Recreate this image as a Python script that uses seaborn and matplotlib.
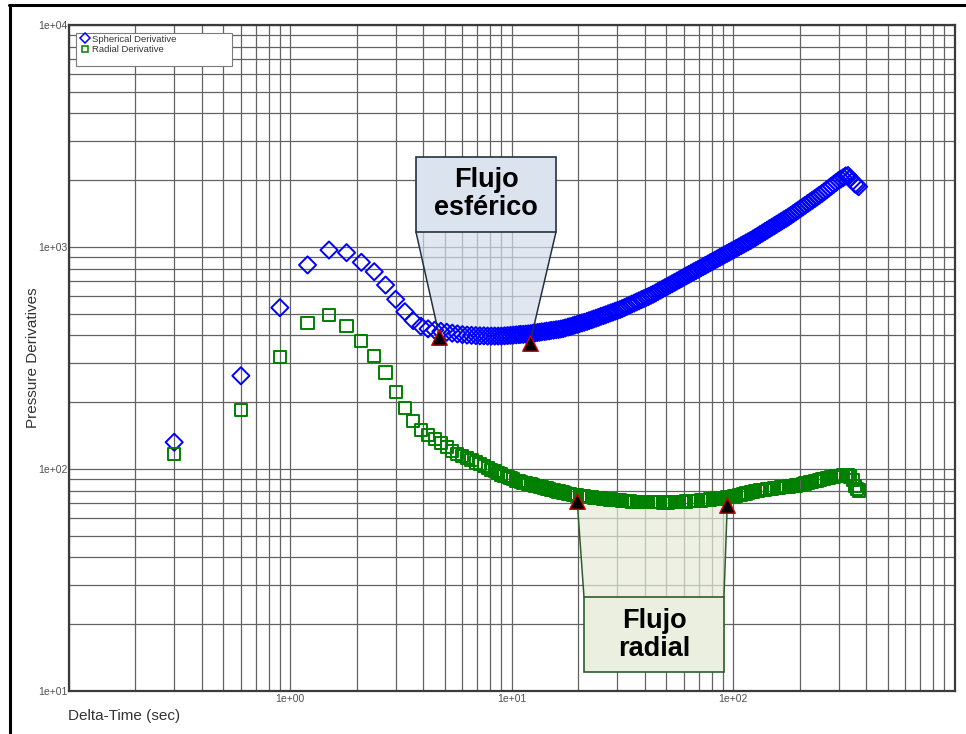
import matplotlib
matplotlib.use("Agg")
import numpy as np
import pandas as pd
import matplotlib.pyplot as plt
import seaborn as sns
from matplotlib.lines import Line2D
from matplotlib.patches import Rectangle, Polygon
from matplotlib.ticker import FixedLocator, LogLocator, FuncFormatter, NullFormatter

# ---- pressure-derivative data (time in seconds) ----
delta_time = [
    0.3, 0.6, 0.9, 1.2, 1.5, 1.8, 2.1, 2.4, 2.7, 3.0, 3.3, 3.6,
    3.9, 4.2, 4.5, 4.8, 5.1, 5.4, 5.7, 6.0, 6.3, 6.6, 6.9, 7.2, 7.5, 7.8,
    8.1, 8.4, 8.7, 9.0, 9.3, 9.6, 9.9, 10.2,
    10.5, 10.8, 11.0, 11.3, 11.6, 11.9, 12.2, 12.5, 12.8, 13.1,
    13.4, 13.7, 14.1, 14.4, 14.8, 15.1, 15.5, 15.9, 16.3, 16.7,
    17.1, 17.5, 18.0, 18.4, 18.9, 19.3, 19.8, 20.3, 20.8, 21.3,
    21.9, 22.4, 23.0, 23.5, 24.1, 24.7, 25.3, 26.0, 26.6, 27.3,
    28.0, 28.7, 29.4, 30.1, 30.9, 31.6, 32.4, 33.2, 34.1, 34.9,
    35.8, 36.7, 37.6, 38.6, 39.5, 40.5, 41.5, 42.6, 43.6, 44.7,
    45.8, 47.0, 48.1, 49.3, 50.6, 51.8, 53.1, 54.5, 55.8, 57.2,
    58.7, 60.1, 61.6, 63.2, 64.8, 66.4, 68.0, 69.7, 71.5, 73.3,
    75.1, 77.0, 78.9, 80.9, 82.9, 85.0, 87.1, 89.3, 91.5, 93.8,
    96.1, 98.5, 101.0, 103.5, 106.1, 108.8, 111.5, 114.3, 117.1, 120.1,
    123.1, 126.1, 129.3, 132.5, 135.8, 139.2, 142.7, 146.3, 149.9, 153.7,
    157.5, 161.5, 165.5, 169.6, 173.9, 178.2, 182.7, 187.3, 192.0, 196.8,
    201.7, 206.7, 211.9, 217.2, 222.6, 228.2, 233.9, 239.7, 245.7, 251.9,
    258.2, 264.6, 271.2, 278.0, 285.0, 292.1, 299.4, 306.9, 314.6, 322.4,
    330.5, 338.7, 347.2, 355.9, 363.0, 369.0,
]

spherical_derivative = [
    132, 263, 533, 830, 969, 943, 853, 774, 674, 581, 511, 466,
    440, 428, 422, 417, 413, 409, 406, 403, 401, 400, 399, 398, 398, 397,
    397, 397, 397, 397, 398, 399, 400, 401,
    402, 403, 404, 404, 405, 406, 407, 409, 410, 412,
    413, 415, 416, 418, 419, 421, 422, 424, 425, 427,
    429, 432, 436, 438, 442, 445, 448, 452, 455, 458,
    462, 466, 470, 474, 478, 482, 487, 491, 495, 500,
    505, 509, 514, 518, 523, 528, 534, 540, 547, 553,
    559, 566, 572, 579, 585, 592, 598, 606, 613, 621,
    630, 639, 647, 656, 665, 674, 683, 693, 702, 712,
    722, 732, 742, 752, 763, 773, 783, 793, 805, 816,
    827, 838, 850, 861, 873, 885, 897, 910, 922, 934,
    947, 960, 973, 986, 1000, 1014, 1028, 1042, 1056, 1070,
    1087, 1103, 1120, 1138, 1155, 1173, 1191, 1210, 1228, 1247,
    1266, 1286, 1306, 1326, 1346, 1367, 1390, 1414, 1439, 1464,
    1490, 1515, 1542, 1569, 1596, 1624, 1652, 1681, 1711, 1741,
    1775, 1809, 1844, 1880, 1917, 1954, 1992, 2023, 2053, 2090,
    2100, 2040, 1980, 1920, 1900, 1870,
]

radial_derivative = [
    117, 184, 321, 453, 492, 442, 378, 323, 272, 223, 188, 165,
    150, 142, 136, 131, 126, 121, 117, 114, 112, 110, 107, 105, 103, 101,
    99, 97.5, 96, 94.5, 93, 92, 91, 90,
    88.5, 87.9, 87.4, 86.8, 86.3, 85.7, 85.2, 84.6, 84.1, 83.6,
    83.2, 82.7, 82.1, 81.7, 81.1, 80.7, 80.2, 79.7, 79.2, 78.8,
    78.4, 78.0, 77.5, 77.2, 76.7, 76.4, 76.0, 75.6, 75.4, 75.2,
    74.9, 74.7, 74.5, 74.3, 74.1, 73.9, 73.7, 73.5, 73.3, 73.1,
    72.9, 72.7, 72.6, 72.4, 72.2, 72.0, 71.8, 71.7, 71.5, 71.3,
    71.2, 71.2, 71.1, 71.1, 71.0, 71.0, 70.9, 70.9, 70.8, 70.8,
    70.7, 70.7, 70.6, 70.5, 70.5, 70.7, 70.8, 70.9, 71.0, 71.1,
    71.2, 71.3, 71.4, 71.5, 71.6, 71.7, 71.8, 71.9, 72.1, 72.3,
    72.5, 72.7, 72.9, 73.2, 73.4, 73.6, 73.8, 74.0, 74.2, 74.5,
    74.7, 74.9, 75.2, 75.7, 76.2, 76.6, 77.1, 77.6, 78.1, 78.6,
    79.0, 79.4, 79.7, 80.1, 80.4, 80.8, 81.1, 81.4, 81.6, 81.9,
    82.1, 82.4, 82.7, 82.9, 83.2, 83.4, 83.7, 84.0, 84.3, 84.5,
    84.9, 85.4, 86.0, 86.5, 87.0, 87.6, 88.1, 88.7, 89.2, 89.8,
    90.3, 90.9, 91.4, 91.9, 92.4, 92.7, 93.0, 93.3, 93.6, 93.9,
    94.0, 92.5, 89.0, 84.0, 81.5, 80.0,
]

# flow-regime limits picked on each derivative
spherical_limits_t = [4.73, 12.1]
spherical_limits_y = [394, 368]
radial_limits_t = [19.8, 94.2]
radial_limits_y = [71.8, 68.8]

x_ticks = [1, 10, 100]
series_names = ["Spherical Derivative", "Radial Derivative"]

df = pd.DataFrame({
    "time": delta_time * 2,
    "deriv": spherical_derivative + radial_derivative,
    "series": [series_names[0]] * len(delta_time) + [series_names[1]] * len(delta_time),
})

sns.set_style("white")
plt.rcParams["font.family"] = ["Liberation Sans", "DejaVu Sans"]

W, H = 966, 734
fig = plt.figure(figsize=(W / 100, H / 100), dpi=100)
ax = fig.add_axes([68.5 / W, 43 / H, 886 / W, 666 / H])
ax.set_xscale("log")
ax.set_yscale("log")
ax.set_xlim(0.1, 1000)
ax.set_ylim(10, 10000)

BLUE = "#0000ff"
GREEN = "#008000"

sns.scatterplot(data=df[df.series == series_names[0]], x="time", y="deriv", ax=ax,
                marker="D", s=76, facecolor="none", edgecolor=BLUE, linewidth=1.4,
                zorder=3, legend=False)
sns.scatterplot(data=df[df.series == series_names[1]], x="time", y="deriv", ax=ax,
                marker="s", s=76, facecolor="none", edgecolor=GREEN, linewidth=1.4,
                zorder=3, legend=False)

# grid and ticks
ax.xaxis.set_major_locator(FixedLocator(x_ticks))
ax.xaxis.set_minor_locator(LogLocator(base=10, subs=np.arange(1, 10), numticks=30))
ax.yaxis.set_major_locator(LogLocator(base=10, numticks=10))
ax.yaxis.set_minor_locator(LogLocator(base=10, subs=np.arange(2, 10), numticks=30))
fmt = FuncFormatter(lambda v, p: f"{v:.0e}")
ax.xaxis.set_major_formatter(fmt)
ax.yaxis.set_major_formatter(fmt)
ax.xaxis.set_minor_formatter(NullFormatter())
ax.yaxis.set_minor_formatter(NullFormatter())
ax.grid(which="both", color="#626262", linewidth=0.9)
ax.set_axisbelow(True)
ax.tick_params(which="both", length=0, labelsize=7.5, labelcolor="#505050")
ax.tick_params(axis="y", pad=1)
ax.tick_params(axis="x", pad=2)
for sp in ax.spines.values():
    sp.set_color("#3a3a3a")
    sp.set_linewidth(1.6)

ax.set_xlabel("Delta-Time (sec)", fontsize=11, color="#333333", ha="left", va="center")
ax.xaxis.set_label_coords(0.0, -0.0375)
ax.set_ylabel("Pressure Derivatives", fontsize=11, color="#333333", va="center")
ax.yaxis.set_label_coords(-0.040, 0.5)

# legend inside a plain box at the top-left corner
ax.add_patch(Rectangle((0.0088, 0.9389), 0.1754, 0.0486, transform=ax.transAxes,
                       facecolor="white", edgecolor="#7a7a7a", linewidth=0.8, zorder=4))
handles = [
    Line2D([], [], marker="D", ls="none", ms=4.7, mfc="none", mec=BLUE, mew=1.1),
    Line2D([], [], marker="s", ls="none", ms=4.3, mfc="none", mec=GREEN, mew=1.1),
]
leg = ax.legend(handles, series_names, loc="upper left", bbox_to_anchor=(0.0145, 0.9856),
                frameon=False, fontsize=6.8, handlelength=0.8, handletextpad=0.3,
                labelspacing=0.15, borderpad=0, borderaxespad=0)
leg.set_zorder(5)
for t in leg.get_texts():
    t.set_color("#333333")


def to_axes(x, y):
    disp = ax.transData.transform((x, y))
    return tuple(ax.transAxes.inverted().transform(disp))


# spherical-flow callout
b1 = dict(x0=0.3922, x1=0.5502, y0=0.6892, y1=0.8018)
s1 = to_axes(spherical_limits_t[0], spherical_limits_y[0])
s2 = to_axes(spherical_limits_t[1], spherical_limits_y[1])
ax.add_patch(Polygon([(b1["x0"], b1["y0"]), (b1["x1"], b1["y0"]), s2, s1], closed=True,
                     transform=ax.transAxes, facecolor="#d3ddec", alpha=0.7,
                     edgecolor="none", zorder=2))
for a, b in [((b1["x0"], b1["y0"]), s1), ((b1["x1"], b1["y0"]), s2)]:
    ax.add_line(Line2D([a[0], b[0]], [a[1], b[1]], transform=ax.transAxes,
                       color="#24313f", linewidth=1.1, zorder=4))
ax.add_patch(Rectangle((b1["x0"], b1["y0"]), b1["x1"] - b1["x0"], b1["y1"] - b1["y0"],
                       transform=ax.transAxes, facecolor="#dbe3ef", edgecolor="#24313f",
                       linewidth=1.2, zorder=6))
ax.text((b1["x0"] + b1["x1"]) / 2, (b1["y0"] + b1["y1"]) / 2, "Flujo\nesférico",
        transform=ax.transAxes, ha="center", va="center", fontsize=19.5,
        fontweight="bold", color="black", linespacing=1.1, zorder=7)

# radial-flow callout
b2 = dict(x0=0.5818, x1=0.7398, y0=0.0285, y1=0.1411)
r1 = to_axes(radial_limits_t[0], radial_limits_y[0])
r2 = to_axes(radial_limits_t[1], radial_limits_y[1])
ax.add_patch(Polygon([r1, r2, (b2["x1"], b2["y1"]), (b2["x0"], b2["y1"])], closed=True,
                     transform=ax.transAxes, facecolor="#e6ebd6", alpha=0.7,
                     edgecolor="none", zorder=2))
for a, b in [((b2["x0"], b2["y1"]), r1), ((b2["x1"], b2["y1"]), r2)]:
    ax.add_line(Line2D([a[0], b[0]], [a[1], b[1]], transform=ax.transAxes,
                       color="#2d5e2d", linewidth=1.1, zorder=4))
ax.add_patch(Rectangle((b2["x0"], b2["y0"]), b2["x1"] - b2["x0"], b2["y1"] - b2["y0"],
                       transform=ax.transAxes, facecolor="#ebefdf", edgecolor="#2d5e2d",
                       linewidth=1.2, zorder=6))
ax.text((b2["x0"] + b2["x1"]) / 2, (b2["y0"] + b2["y1"]) / 2, "Flujo\nradial",
        transform=ax.transAxes, ha="center", va="center", fontsize=19.5,
        fontweight="bold", color="black", linespacing=1.1, zorder=7)

# regime limit markers
sns.scatterplot(x=spherical_limits_t + radial_limits_t, y=spherical_limits_y + radial_limits_y,
                ax=ax, marker="^", s=125, color="black", edgecolor="#d40000",
                linewidth=1.0, zorder=8, legend=False)

# outer frame lines (top and left)
fig.add_artist(Line2D([10 / W, 10 / W], [0, 1 - 4.5 / H], transform=fig.transFigure,
                      color="black", linewidth=2.2))
fig.add_artist(Line2D([9 / W, 1], [1 - 4.5 / H, 1 - 4.5 / H], transform=fig.transFigure,
                      color="black", linewidth=2.2))

fig.savefig("out.png", dpi=100)
